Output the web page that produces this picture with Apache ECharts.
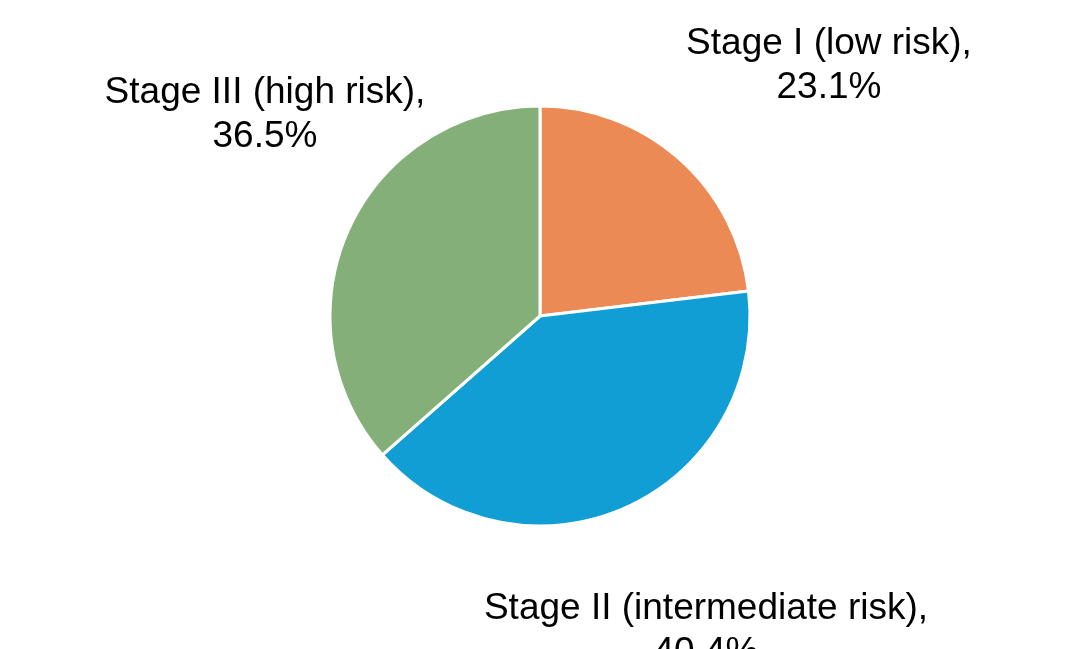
<!DOCTYPE html>
<html>
<head>
<meta charset="utf-8">
<script src="https://cdn.jsdelivr.net/npm/echarts@6/dist/echarts.min.js"></script>
<style>
  html, body { margin: 0; padding: 0; background: #ffffff; }
  #chart { width: 1067px; height: 649px; }
</style>
</head>
<body>
<div id="chart"></div>
<script>
// Share of patients by risk stage (%)
const stages = ['Stage I (low risk)', 'Stage II (intermediate risk)', 'Stage III (high risk)'];
const shares = [23.1, 40.4, 36.5];
const sliceColors = ['#EC8A56', '#109ED5', '#84AF78'];

// Label anchor points (centre of each two-line label)
const labelSpots = [
  { x: 829, y: 66 },
  { x: 706, y: 631 },
  { x: 265, y: 115 }
];

const chart = echarts.init(document.getElementById('chart'), null, { renderer: 'canvas' });

chart.setOption({
  animation: false,
  backgroundColor: '#ffffff',
  series: [{
    type: 'pie',
    center: [540, 316],
    radius: 210,
    startAngle: 90,
    clockwise: true,
    avoidLabelOverlap: false,
    data: stages.map((name, i) => ({
      name: name,
      value: shares[i],
      itemStyle: { color: sliceColors[i] }
    })),
    itemStyle: { borderColor: '#ffffff', borderWidth: 3 },
    label: {
      show: true,
      position: 'outside',
      formatter: p => p.name + ',\n' + p.value.toFixed(1) + '%',
      fontFamily: 'Liberation Sans, Arial, sans-serif',
      fontSize: 37,
      lineHeight: 44,
      color: '#000000',
      align: 'center'
    },
    labelLine: { show: false },
    labelLayout: params => {
      const s = labelSpots[params.dataIndex];
      return { x: s.x, y: s.y, align: 'center', verticalAlign: 'middle' };
    },
    emphasis: { disabled: true }
  }]
});
</script>
</body>
</html>
